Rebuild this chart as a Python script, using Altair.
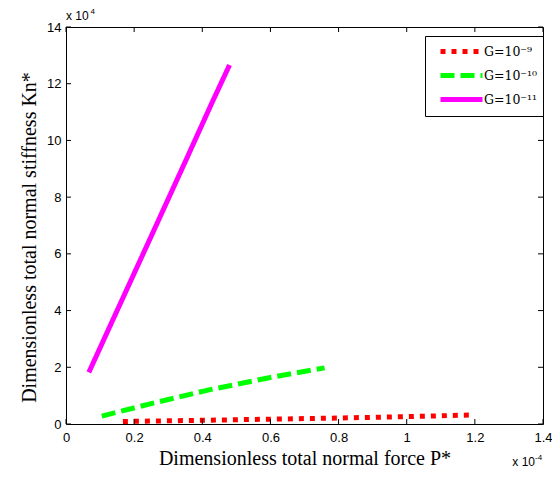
import altair as alt
import pandas as pd

# ---- data (x in units of 1e-4, y in units of 1e4) ----
labels = ["G=10⁻⁹", "G=10⁻¹⁰", "G=10⁻¹¹"]
colors = ["#ff0000", "#00ff00", "#ff00ff"]
dashes = [[5, 6], [14, 6], [1, 0]]

x_g9 = [0.167, 0.40, 0.60, 0.80, 1.00, 1.20]
y_g9 = [0.09, 0.13, 0.17, 0.21, 0.26, 0.32]

x_g10 = [0.105, 0.25, 0.426, 0.60, 0.759]
y_g10 = [0.28, 0.72, 1.22, 1.64, 1.98]

x_g11 = [0.067, 0.15, 0.25, 0.35, 0.43, 0.48]
y_g11 = [1.82, 4.0, 6.62, 9.25, 11.37, 12.66]

x_ticks = [0, 0.2, 0.4, 0.6, 0.8, 1.0, 1.2, 1.4]
y_ticks = [0, 2, 4, 6, 8, 10, 12, 14]

X_DOM = [0, 1.4]
Y_DOM = [0, 14]
W, H = 477, 397
TICK_PX = 5

rows = []
for lab, xs, ys in zip(labels, [x_g9, x_g10, x_g11], [y_g9, y_g10, y_g11]):
    for i, (a, b) in enumerate(zip(xs, ys)):
        rows.append({"series": lab, "x": a, "y": b, "i": i})
df = pd.DataFrame(rows)

xs = alt.Scale(domain=X_DOM, nice=False, zero=False)
ys = alt.Scale(domain=Y_DOM, nice=False, zero=False)

serif = "Liberation Serif"
sans = "Liberation Sans"

x_axis = alt.Axis(values=x_ticks, format="~g", title="Dimensionless total normal force P*",
                  titleFont=serif, titleFontSize=20, titleFontWeight="normal", titleColor="black",
                  titleY=40.5, titleBaseline="alphabetic",
                  labelFont=sans, labelFontSize=13, labelColor="black", labelPadding=7,
                  ticks=False, tickSize=0, domain=False, grid=False, labelFlush=False)
y_axis = alt.Axis(values=y_ticks, format="~g", title="Dimensionless total normal stiffness Kn*",
                  titleFont=serif, titleFontSize=20, titleFontWeight="normal", titleColor="black",
                  titleX=-31, titleY=210, titleBaseline="alphabetic", titleAngle=270, titleAlign="center",
                  labelFont=sans, labelFontSize=13, labelColor="black", labelPadding=5,
                  ticks=False, tickSize=0, domain=False, grid=False, labelFlush=False)

lines = alt.Chart(df).mark_line(strokeWidth=5, strokeCap="butt", clip=True).encode(
    x=alt.X("x:Q", scale=xs, axis=x_axis),
    y=alt.Y("y:Q", scale=ys, axis=y_axis),
    order="i:O",
    color=alt.Color("series:N", scale=alt.Scale(domain=labels, range=colors),
                    legend=alt.Legend(orient="none", legendX=359, legendY=9, title=None,
                                      symbolType="M-3,0H3", symbolSize=196, symbolStrokeWidth=5,
                                      labelFont="DejaVu Serif", labelFontSize=12.5, labelColor="black",
                                      padding=6, rowPadding=3, symbolOffset=21, labelOffset=13,
                                      strokeColor="black", fillColor="white", cornerRadius=0)),
    strokeDash=alt.StrokeDash("series:N", scale=alt.Scale(domain=labels, range=dashes), legend=None),
)

# inside tick marks (MATLAB style) on all four sides
ty = TICK_PX / H * (Y_DOM[1] - Y_DOM[0])
tx = TICK_PX / W * (X_DOM[1] - X_DOM[0])
xt = pd.DataFrame({"v": x_ticks})
yt = pd.DataFrame({"v": y_ticks})
tick_col = "black"
xt_bottom = alt.Chart(xt).mark_rule(color=tick_col, strokeWidth=1).encode(
    x=alt.X("v:Q", scale=xs), y=alt.datum(Y_DOM[0], scale=ys), y2=alt.datum(Y_DOM[0] + ty))
xt_top = alt.Chart(xt).mark_rule(color=tick_col, strokeWidth=1).encode(
    x=alt.X("v:Q", scale=xs), y=alt.datum(Y_DOM[1], scale=ys), y2=alt.datum(Y_DOM[1] - ty))
yt_left = alt.Chart(yt).mark_rule(color=tick_col, strokeWidth=1).encode(
    y=alt.Y("v:Q", scale=ys), x=alt.datum(X_DOM[0], scale=xs), x2=alt.datum(X_DOM[0] + tx))
yt_right = alt.Chart(yt).mark_rule(color=tick_col, strokeWidth=1).encode(
    y=alt.Y("v:Q", scale=ys), x=alt.datum(X_DOM[1], scale=xs), x2=alt.datum(X_DOM[1] - tx))

# exponent annotations anchored at the axis corners
ann = pd.DataFrame({"x": [X_DOM[0]], "y": [Y_DOM[1]], "x2": [X_DOM[1]], "y2": [Y_DOM[0]]})
top_base = alt.Chart(ann).mark_text(text="x 10", font=sans, fontSize=12, align="left",
                                    baseline="alphabetic", dx=0, dy=-7.5, color="black").encode(
    x=alt.X("x:Q", scale=xs), y=alt.Y("y:Q", scale=ys))
top_exp = alt.Chart(ann).mark_text(text="4", font=sans, fontSize=8, align="left",
                                   baseline="alphabetic", dx=24.5, dy=-13, color="black").encode(
    x=alt.X("x:Q", scale=xs), y=alt.Y("y:Q", scale=ys))
bot_base = alt.Chart(ann).mark_text(text="x 10", font=sans, fontSize=12, align="right",
                                    baseline="alphabetic", dx=-8, dy=41.5, color="black").encode(
    x=alt.X("x2:Q", scale=xs), y=alt.Y("y2:Q", scale=ys))
bot_exp = alt.Chart(ann).mark_text(text="-4", font=sans, fontSize=8, align="left",
                                   baseline="alphabetic", dx=-8, dy=35.5, color="black").encode(
    x=alt.X("x2:Q", scale=xs), y=alt.Y("y2:Q", scale=ys))

chart = alt.layer(lines, xt_bottom, xt_top, yt_left, yt_right,
                  top_base, top_exp, bot_base, bot_exp).properties(
    width=W, height=H,
    autosize=alt.AutoSizeParams(type="none"),
    padding={"left": 58, "top": 19, "right": 9, "bottom": 45},
    background="white",
).configure_view(stroke="black", strokeWidth=1).configure_axis(labelFontWeight="normal")

chart.save("out.html", embed_options={"renderer": "svg", "actions": False})
